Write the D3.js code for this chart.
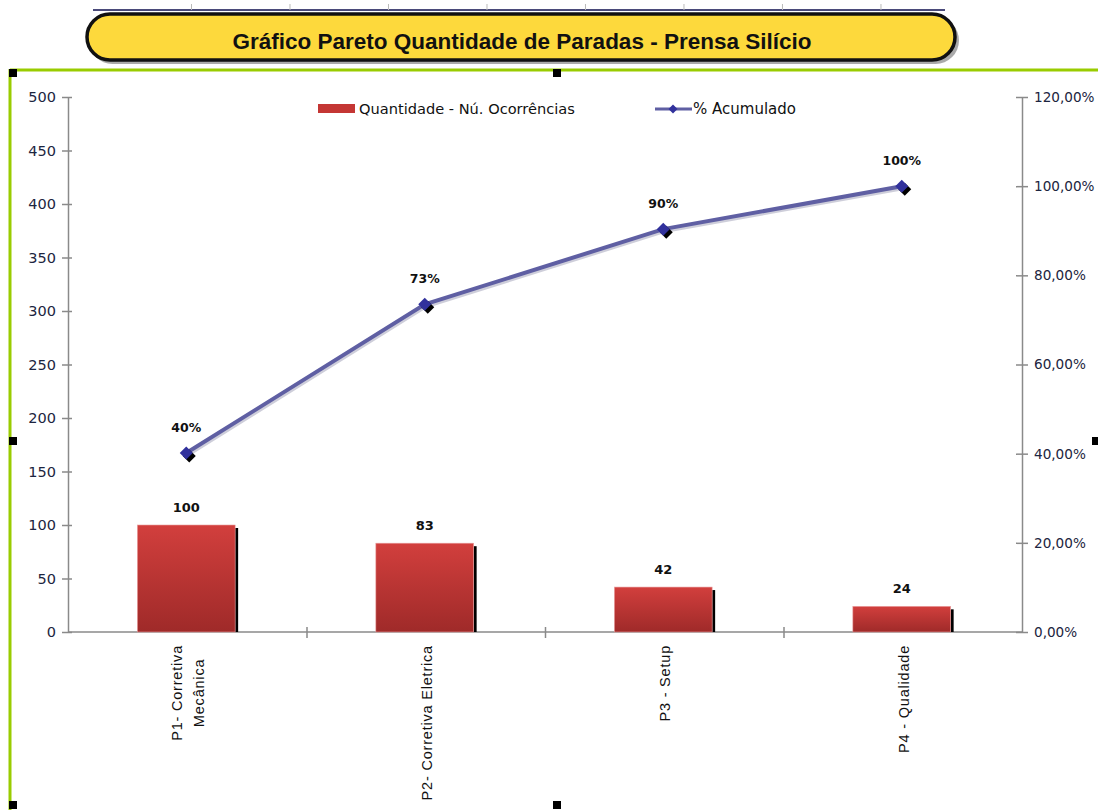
<!DOCTYPE html>
<html><head><meta charset="utf-8">
<script src="https://cdn.jsdelivr.net/npm/d3@7"></script>
<style>body{margin:0;background:#fff}svg{display:block}</style>
</head><body>
<svg id="c" width="1098" height="810"></svg>
<script>
const categories = [["P1-  Corretiva","Mecânica"],["P2- Corretiva Eletrica"],["P3 - Setup"],["P4 - Qualidade"]];
const quantities = [100, 83, 42, 24];
const cumulative = [0.4016, 0.7349, 0.9036, 1.0];
const cumulativeLabels = ["40%","73%","90%","100%"];
const leftTicks = [0,50,100,150,200,250,300,350,400,450,500];
const rightTicks = [0,0.2,0.4,0.6,0.8,1.0,1.2];
const titleText = "Gráfico Pareto Quantidade de Paradas - Prensa Silício";
const legendLabels = ["Quantidade - Nú. Ocorrências","% Acumulado"];

const svg = d3.select("#c");
const font = "Tahoma, 'DejaVu Sans', sans-serif";
const arial = "Arial, 'Liberation Sans', sans-serif";
const L = 68, R = 1022, T = 97, B = 632;

const defs = svg.append("defs");
const g1 = defs.append("linearGradient").attr("id","barg").attr("x1",0).attr("y1",0).attr("x2",0).attr("y2",1);
g1.append("stop").attr("offset","0%").attr("stop-color","#d23f3d");
g1.append("stop").attr("offset","100%").attr("stop-color","#9f2a29");

// top ruler line
svg.append("line").attr("x1",93).attr("x2",945).attr("y1",10).attr("y2",10).attr("stroke","#4a4a7a").attr("stroke-width",2);
d3.range(1,9).forEach(i=>{
  const xx = 93 + i*(852/8.65);
  svg.append("line").attr("x1",xx).attr("x2",xx).attr("y1",4).attr("y2",10).attr("stroke","#bbb").attr("stroke-width",1);
});

// title pill
svg.append("rect").attr("x",89).attr("y",17).attr("width",870).attr("height",47).attr("rx",23.5).attr("fill","#555").attr("opacity",0.5);
svg.append("rect").attr("x",87).attr("y",14).attr("width",868).attr("height",46).attr("rx",23)
  .attr("fill","#fdd93c").attr("stroke","#111").attr("stroke-width",3.5);
svg.append("text").attr("x",522).attr("y",49).attr("text-anchor","middle")
  .attr("font-family",arial).attr("font-weight","bold").attr("font-size",22.5)
  .attr("fill","#111").text(titleText);

// green frame
svg.append("line").attr("x1",10).attr("x2",1098).attr("y1",70).attr("y2",70).attr("stroke","#99cc00").attr("stroke-width",3);
svg.append("line").attr("x1",10).attr("x2",10).attr("y1",69).attr("y2",810).attr("stroke","#99cc00").attr("stroke-width",3);
// selection handles
[[13,73],[557,73],[13,441],[1096,441],[13,805],[557,805]].forEach(([hx,hy])=>{
  svg.append("rect").attr("x",hx-4).attr("y",hy-4).attr("width",8).attr("height",8).attr("fill","#000");
});

// scales
const x = d3.scaleBand().domain(d3.range(categories.length)).range([L,R]).paddingInner(0).paddingOuter(0);
const yL = d3.scaleLinear().domain([0,500]).range([B,T]);
const yR = d3.scaleLinear().domain([0,1.2]).range([B,T]);
const barW = x.bandwidth()*0.41;

// axes
const axisColor = "#8a8a8a";
const gl = svg.append("g").attr("transform",`translate(${L},0)`)
  .call(d3.axisLeft(yL).tickValues(leftTicks).tickSizeInner(6).tickSizeOuter(0).tickPadding(6));
gl.selectAll(".tick line").attr("x2",4).attr("x1",-6);
const gr = svg.append("g").attr("transform",`translate(${R},0)`)
  .call(d3.axisRight(yR).tickValues(rightTicks).tickSizeInner(6).tickSizeOuter(0).tickPadding(6)
    .tickFormat(d=>d3.format(".2f")(d*100).replace(".",",")+"%"));
gr.selectAll(".tick line").attr("x1",-6).attr("x2",6);
const gx = svg.append("g").attr("transform",`translate(0,${B})`)
  .call(d3.axisBottom(d3.scaleLinear().domain([0,4]).range([L,R])).tickValues([1,2,3]).tickSize(0).tickFormat(""));
gx.selectAll(".tick line").attr("y1",-5).attr("y2",6);
[gl,gr,gx].forEach(g=>{
  g.select(".domain").attr("stroke",axisColor).attr("stroke-width",1.5);
  g.selectAll(".tick line").attr("stroke",axisColor).attr("stroke-width",1.5);
  g.selectAll(".tick text").attr("font-family",font).attr("font-size",14.5).attr("fill","#1c2540");
});
gr.selectAll(".tick text").attr("font-size",13.6);
gx.select(".domain").attr("d",`M${L},0H${R}`);

// bars
const bars = svg.append("g");
quantities.forEach((q,i)=>{
  const bx = x(i) + (x.bandwidth()-barW)/2 - 1;
  bars.append("rect").attr("x",bx+barW).attr("y",yL(q)+3).attr("width",3).attr("height",B-yL(q)-3).attr("fill","#000");
  bars.append("rect").attr("x",bx).attr("y",yL(q)).attr("width",barW).attr("height",B-yL(q))
    .attr("fill","url(#barg)").attr("stroke","#e9a0a0").attr("stroke-width",0.6);
  bars.append("text").attr("x",bx+barW/2).attr("y",yL(q)-13).attr("text-anchor","middle")
    .attr("font-family","'DejaVu Sans', sans-serif").attr("font-weight","bold").attr("font-size",13).attr("fill","#111").text(q);
});

// line
const cx = i => x(i)+x.bandwidth()/2 - 1;
const line = d3.line().x((d,i)=>cx(i)).y(d=>yR(d));
svg.append("path").datum(cumulative).attr("d",line).attr("fill","none").attr("stroke","#3a3a6a").attr("stroke-width",4).attr("opacity",0.25).attr("transform","translate(1,2)");
svg.append("path").datum(cumulative).attr("d",line).attr("fill","none").attr("stroke","#5f5fa3").attr("stroke-width",4);
const diamond = (cxv,cyv,r)=>`M${cxv},${cyv-r}L${cxv+r},${cyv}L${cxv},${cyv+r}L${cxv-r},${cyv}Z`;
cumulative.forEach((c,i)=>{
  svg.append("path").attr("d",diamond(cx(i)+3,yR(c)+3,6.5)).attr("fill","#000");
  svg.append("path").attr("d",diamond(cx(i),yR(c),6.5)).attr("fill","#31319c");
  svg.append("text").attr("x",cx(i)).attr("y",yR(c)-21).attr("text-anchor","middle")
    .attr("font-family","'DejaVu Sans', sans-serif").attr("font-weight","bold").attr("font-size",12.5).attr("fill","#111").text(cumulativeLabels[i]);
});

// category labels
categories.forEach((lines,i)=>{
  const g = svg.append("g");
  const texts = lines.map(t=> g.append("text").attr("font-family",arial).attr("font-size",14.5)
    .attr("letter-spacing",0.8).attr("fill","#111").text(t));
  const maxLen = d3.max(texts, t=>t.node().getComputedTextLength());
  const lh = 22;
  const cxx = x(i)+x.bandwidth()/2 - 1;
  const yMid = 645 + maxLen/2;
  texts.forEach((t,k)=>{
    const off = (k-(lines.length-1)/2)*lh;
    t.attr("text-anchor","middle").attr("transform",`translate(${cxx+off+7},${yMid}) rotate(-90)`);
  });
});

// legend
svg.append("rect").attr("x",318).attr("y",104).attr("width",37).attr("height",9).attr("fill","#c43634");
svg.append("text").attr("x",359).attr("y",114).attr("font-family",font).attr("font-size",14.6).attr("fill","#111").text(legendLabels[0]);
svg.append("line").attr("x1",655).attr("x2",692).attr("y1",109).attr("y2",109).attr("stroke","#5f5fa3").attr("stroke-width",3);
svg.append("path").attr("d",diamond(673,109,4.5)).attr("fill","#31319c");
svg.append("text").attr("x",693).attr("y",114).attr("font-family",font).attr("font-size",15).attr("fill","#111").text(legendLabels[1]);
</script>
</body></html>
